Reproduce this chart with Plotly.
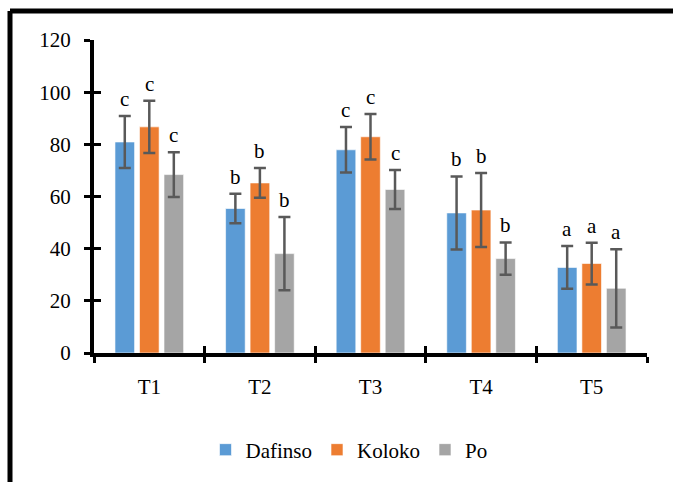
import plotly.graph_objects as go

categories = ["T1", "T2", "T3", "T4", "T5"]
series_names = ["Dafinso", "Koloko", "Po"]
dafinso = [80.9, 55.4, 77.9, 53.7, 32.8]
koloko = [86.7, 65.2, 82.9, 54.8, 34.3]
po = [68.4, 38.1, 62.7, 36.2, 24.8]
dafinso_err = [10.0, 5.7, 8.7, 14.0, 8.2]
koloko_err = [10.0, 5.7, 8.7, 14.2, 8.0]
po_err = [8.6, 14.0, 7.5, 6.2, 15.0]
dafinso_letters = ["c", "b", "c", "b", "a"]
koloko_letters = ["c", "b", "c", "b", "a"]
po_letters = ["c", "b", "c", "b", "a"]
colors = ["#5B9BD5", "#ED7D31", "#A5A5A5"]
y_ticks = [0, 20, 40, 60, 80, 100, 120]

values = [dafinso, koloko, po]
errors = [dafinso_err, koloko_err, po_err]
letters = [dafinso_letters, koloko_letters, po_letters]

FONT = "Liberation Serif"
FS = 21
bargap = 0.335
bargroupgap = 0.2

W, H = 673, 482
L, R, T, B = 94, 26, 40, 129
pw, ph = W - L - R, H - T - B

fig = go.Figure()
for name, vals, errs, col in zip(series_names, values, errors, colors):
    fig.add_trace(go.Bar(
        x=categories, y=vals, name=name,
        marker=dict(color=col, line=dict(color="rgba(255,255,255,0.6)", width=1)),
        error_y=dict(type="data", array=errs, visible=True,
                     color="#595959", thickness=2.5, width=6),
    ))

# overlay axes for crossing tick marks
fig.add_trace(go.Scatter(x=categories, y=[None] * len(categories), xaxis="x2", yaxis="y2",
                         showlegend=False, hoverinfo="skip", mode="markers"))

slot = (1 - bargap) / 3
annotations = []
for j, (vals, errs, labs) in enumerate(zip(values, errors, letters)):
    for i, (v, e, lab) in enumerate(zip(vals, errs, labs)):
        annotations.append(dict(
            x=i + (j - 1) * slot, y=v + e, xref="x", yref="y",
            text=lab, showarrow=False, yanchor="bottom", xanchor="center",
            yshift=3, font=dict(family=FONT, size=FS, color="black"),
        ))

def px_x(p):
    return (p - L) / pw

def px_y(p):
    return (H - B - p) / ph

shapes = [
    dict(type="line", xref="paper", yref="paper", x0=px_x(10), x1=px_x(10),
         y0=px_y(11), y1=px_y(495), line=dict(color="black", width=5)),
    dict(type="line", xref="paper", yref="paper", x0=px_x(10), x1=px_x(690),
         y0=px_y(11), y1=px_y(11), line=dict(color="black", width=5)),
]

fig.update_layout(
    width=W, height=H,
    margin=dict(l=L, r=R, t=T, b=B),
    paper_bgcolor="white", plot_bgcolor="white",
    barmode="group", bargap=bargap, bargroupgap=bargroupgap,
    font=dict(family=FONT, size=FS, color="black"),
    xaxis=dict(type="category", range=[-0.5, 4.5], showgrid=False,
               showline=True, linecolor="black", linewidth=4,
               ticks="outside", tickson="boundaries", ticklen=6, tickwidth=3,
               tickcolor="black", tickfont=dict(family=FONT, size=FS),
               ticklabelstandoff=12, zeroline=False),
    yaxis=dict(range=[0, 120], tickvals=y_ticks, showgrid=False,
               showline=True, linecolor="black", linewidth=4,
               ticks="outside", ticklen=6, tickwidth=3, tickcolor="black",
               tickfont=dict(family=FONT, size=FS), ticklabelstandoff=9,
               zeroline=False),
    xaxis2=dict(type="category", overlaying="x", range=[-0.5, 4.5],
                showgrid=False, showline=False, ticks="inside",
                tickson="boundaries", ticklen=7, tickwidth=3, tickcolor="black",
                showticklabels=False, zeroline=False),
    yaxis2=dict(overlaying="y", range=[0, 120], tickvals=y_ticks,
                showgrid=False, showline=False, ticks="inside", ticklen=7,
                tickwidth=3, tickcolor="black", showticklabels=False,
                zeroline=False),
    legend=dict(orientation="h", x=px_x(349), xanchor="center",
                y=px_y(450), yanchor="middle",
                font=dict(family=FONT, size=FS), itemwidth=30,
                bgcolor="rgba(0,0,0,0)"),
    annotations=annotations,
    shapes=shapes,
    showlegend=True,
)

fig.write_html("out.html")
